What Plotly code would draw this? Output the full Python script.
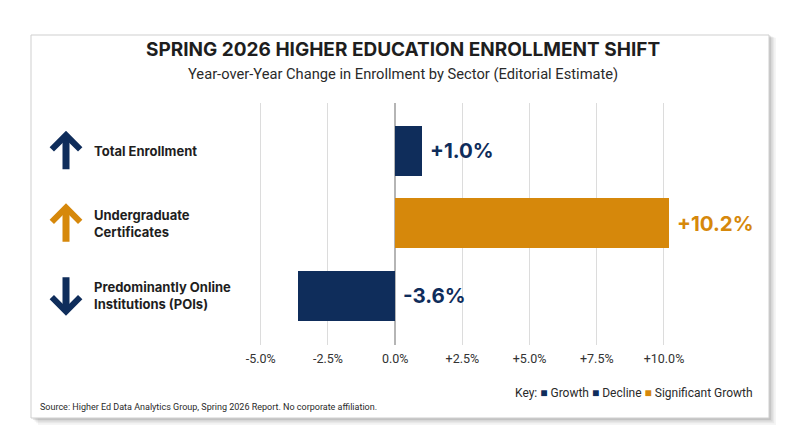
import plotly.graph_objects as go

# data
sectors = ["Total Enrollment", "Undergraduate<br>Certificates", "Predominantly Online<br>Institutions (POIs)"]
changes = [1.0, 10.2, -3.6]
value_labels = ["+1.0%", "+10.2%", "-3.6%"]
directions = ["up", "up", "down"]
bar_colors = ["#0F2D5B", "#D6880B", "#0F2D5B"]
tick_vals = [-5.0, -2.5, 0.0, 2.5, 5.0, 7.5, 10.0]
tick_text = ["-5.0%", "-2.5%", "0.0%", "+2.5%", "+5.0%", "+7.5%", "+10.0%"]
key_items = [("Growth", "#0F2D5B"), ("Decline", "#0F2D5B"), ("Significant Growth", "#D6880B")]

FONT = "Inter"

ypos = list(range(len(sectors)))

fig = go.Figure()
fig.add_trace(go.Bar(
    x=changes, y=ypos, orientation="h",
    marker=dict(color=bar_colors, line=dict(width=0)),
    width=0.69, hoverinfo="skip",
))


# helpers: page pixels -> paper coords (plot area is 250..750 x 103..345)
def px_x(p):
    return (p - 250) / 500.0


def px_y(p):
    return (345 - p) / 242.0


# card with a soft shadow
shapes = []
for i, op in enumerate([0.04, 0.05, 0.07, 0.09]):
    off = 7 - i * 1.7
    shapes.append(dict(type="rect", xref="paper", yref="paper", layer="below",
                       x0=px_x(31 + off), x1=px_x(769 + off),
                       y0=px_y(418 + off), y1=px_y(35 + off * 0.4),
                       line=dict(width=0), fillcolor=f"rgba(0,0,0,{op})"))
shapes.append(dict(type="rect", xref="paper", yref="paper", layer="below",
                   x0=px_x(31), x1=px_x(769), y0=px_y(418), y1=px_y(35),
                   line=dict(color="#CFCFCF", width=1), fillcolor="white"))

annotations = []
# title / subtitle
annotations.append(dict(text="<b>SPRING 2026 HIGHER EDUCATION ENROLLMENT SHIFT</b>",
                        xref="paper", yref="paper", x=px_x(403), y=px_y(50),
                        xanchor="center", yanchor="middle", showarrow=False,
                        font=dict(family=FONT, size=19, color="#1E1E1E")))
annotations.append(dict(text="Year-over-Year Change in Enrollment by Sector (Editorial Estimate)",
                        xref="paper", yref="paper", x=px_x(403), y=px_y(74),
                        xanchor="center", yanchor="middle", showarrow=False,
                        font=dict(family="Roboto", size=14.7, color="#2A2A2A")))

# category labels with arrows
for i, (name, d, c) in enumerate(zip(sectors, directions, bar_colors)):
    annotations.append(dict(text=f"<b>{name}</b>", xref="paper", yref="y",
                            x=px_x(92), y=i, xanchor="left", yanchor="middle",
                            align="left", showarrow=False,
                            font=dict(family=FONT, size=13, color="#1E1E1E")))
    shift = 20 if d == "up" else -20
    annotations.append(dict(text="", xref="paper", yref="y", x=px_x(66), y=i,
                            yshift=shift, ax=0, ay=40 if d == "up" else -40,
                            showarrow=True, arrowhead=4, arrowwidth=7, arrowsize=0.78,
                            arrowcolor=c))

# value labels
for i, (v, lab, c) in enumerate(zip(changes, value_labels, bar_colors)):
    annotations.append(dict(text=f"<b>{lab}</b>", x=max(v, 0), y=i, xref="x", yref="y",
                            xanchor="left", yanchor="middle", xshift=6, showarrow=False,
                            font=dict(family=FONT, size=20.5, color=c)))

# key
key_html = "Key: " + " ".join(
    f"<span style='color:{c}'>■</span> {n}" for n, c in key_items)
annotations.append(dict(text=key_html, xref="paper", yref="paper", x=px_x(755), y=px_y(393),
                        xanchor="right", yanchor="middle", showarrow=False,
                        font=dict(family="Roboto", size=12, color="#2A2A2A")))
annotations.append(dict(text="Source: Higher Ed Data Analytics Group, Spring 2026 Report. No corporate affiliation.",
                        xref="paper", yref="paper", x=px_x(38), y=px_y(407),
                        xanchor="left", yanchor="middle", showarrow=False,
                        font=dict(family="Roboto", size=9, color="#2A2A2A")))

fig.update_layout(
    width=800, height=447,
    margin=dict(l=250, r=50, t=103, b=102),
    paper_bgcolor="white", plot_bgcolor="rgba(0,0,0,0)",
    showlegend=False, bargap=0,
    shapes=shapes, annotations=annotations,
    xaxis=dict(range=[-5.4, 13.2], tickvals=tick_vals, ticktext=tick_text,
               showgrid=True, gridcolor="#DCDCDC", gridwidth=1,
               zeroline=True, zerolinecolor="#B5B5B5", zerolinewidth=1.5,
               showline=False, ticks="", fixedrange=True, ticklabelstandoff=4,
               tickfont=dict(family="Roboto", size=12.5, color="#333333")),
    yaxis=dict(range=[2.68, -0.66], showticklabels=False, showgrid=False,
               zeroline=False, fixedrange=True),
)

fig.write_html("out.html", config={"displayModeBar": False},
               post_script="document.body.style.margin='0';")
